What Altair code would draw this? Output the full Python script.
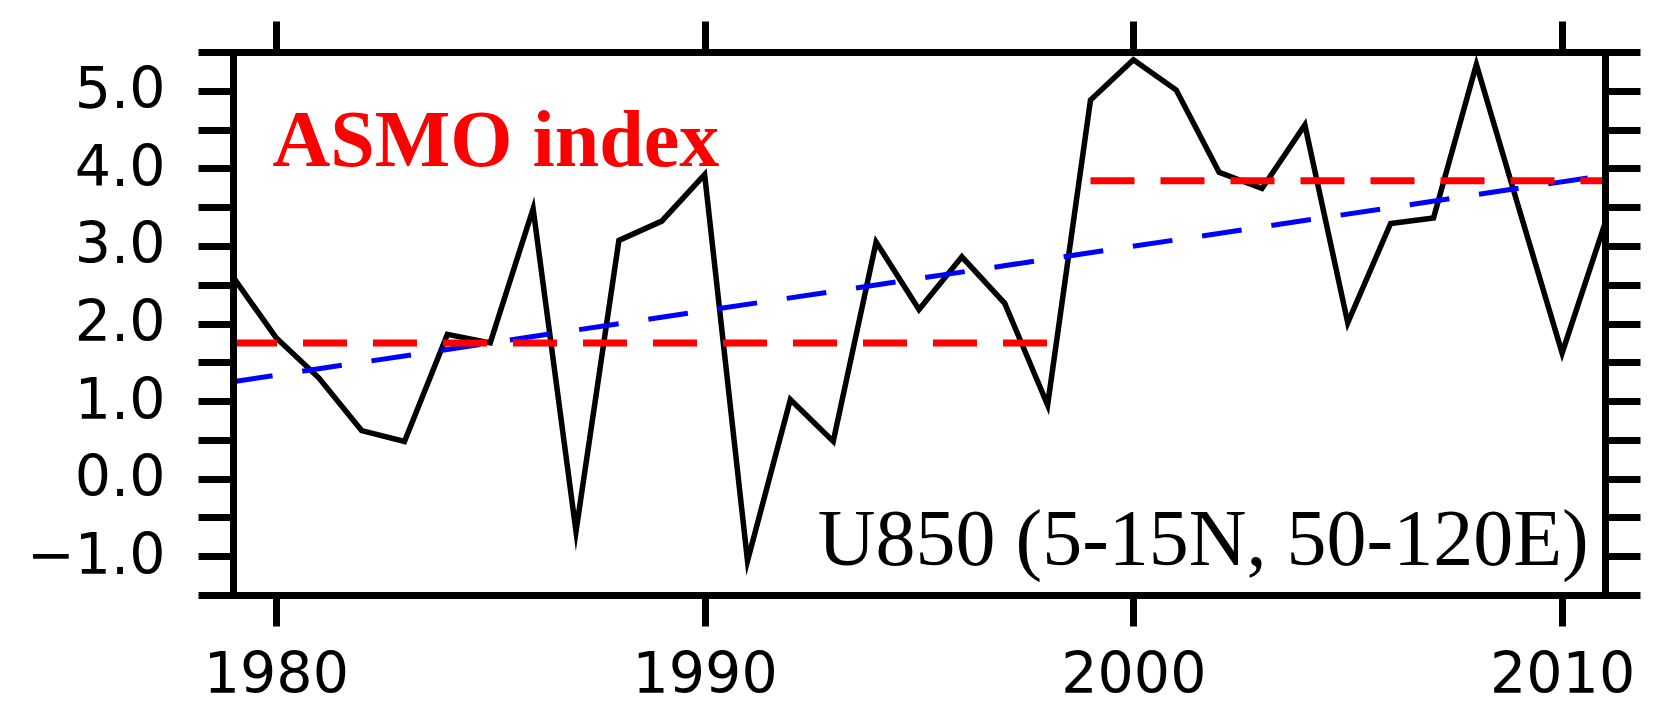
import altair as alt
import pandas as pd

# ---- data ----
years = list(range(1979, 2012))
u850 = [2.60, 1.82, 1.30, 0.62, 0.48, 1.86, 1.75, 3.48, -0.68, 3.07,
        3.32, 3.92, -1.06, 1.02, 0.48, 3.05, 2.18, 2.86, 2.26, 0.95,
        4.88, 5.40, 5.01, 3.95, 3.74, 4.56, 2.01, 3.29, 3.36, 5.34,
        3.47, 1.62, 3.29]

mean_periods = ["1979-1998", "1979-1998", "1999-2011", "1999-2011"]
mean_years = [1979, 1998, 1999, 2011]
mean_values = [1.75, 1.75, 3.84, 3.84]

trend_years = [1979, 2011]
trend_values = [1.25, 3.91]

x_ticks = [1980, 1990, 2000, 2010]
y_ticks = [-1.5, -1.0, -0.5, 0.0, 0.5, 1.0, 1.5, 2.0, 2.5, 3.0, 3.5, 4.0, 4.5, 5.0, 5.5]
x_domain = [1979, 2011]
y_domain = [-1.5, 5.5]

title_text = ["ASMO index"]
title_pos = [1979.92, 4.03]
region_text = ["U850 (5-15N, 50-120E)"]
region_pos = [2010.62, -1.11]

# ---- tables ----
df_line = pd.DataFrame({"year": years, "value": u850})
df_mean = pd.DataFrame({"period": mean_periods, "year": mean_years, "value": mean_values})
df_trend = pd.DataFrame({"year": trend_years, "value": trend_values})
df_t1 = pd.DataFrame({"year": [title_pos[0]], "value": [title_pos[1]], "label": title_text})
df_t2 = pd.DataFrame({"year": [region_pos[0]], "value": [region_pos[1]], "label": region_text})

xs = alt.Scale(domain=x_domain, nice=False, zero=False)
ys = alt.Scale(domain=y_domain, nice=False, zero=False)

common = dict(domainColor="black", tickColor="black", domainWidth=7, tickWidth=7,
              grid=False, zindex=1, domainCap="square", labelOverlap=False)
label_style = dict(labelFontSize=57, labelFont="DejaVu Sans", labelFontWeight="normal",
                   labelColor="black")

ax_left = alt.Axis(orient="left", values=y_ticks,
                   labelExpr="abs(datum.value % 1) < 0.01 ? format(datum.value, '.1f') : ''",
                   tickSize=35, labelPadding=33, **label_style, **common)
ax_bottom = alt.Axis(orient="bottom", values=x_ticks, format="d", tickSize=31,
                     labelPadding=21, labelFlush=False, **label_style, **common)
ax_right = alt.Axis(orient="right", values=y_ticks, labels=False, tickSize=35, **common)
ax_top = alt.Axis(orient="top", values=x_ticks, labels=False, tickSize=31, **common)

black = alt.Chart(df_line).mark_line(
    color="black", strokeWidth=5.5, strokeJoin="miter", strokeMiterLimit=10
).encode(
    x=alt.X("year:Q", scale=xs, axis=ax_bottom, title=None),
    y=alt.Y("value:Q", scale=ys, axis=ax_left, title=None),
)

blue = alt.Chart(df_trend).mark_line(
    color="#0000ff", strokeWidth=5, strokeDash=[40, 30]
).encode(
    x=alt.X("year:Q", scale=xs, axis=ax_top, title=None),
    y=alt.Y("value:Q", scale=ys, axis=ax_right, title=None),
)

red = alt.Chart(df_mean).mark_line(
    color="#ff0000", strokeWidth=7, strokeDash=[44, 26]
).encode(
    x=alt.X("year:Q", scale=xs, axis=None),
    y=alt.Y("value:Q", scale=ys, axis=None),
    detail="period:N",
)

t1 = alt.Chart(df_t1).mark_text(
    font="Liberation Serif", fontWeight="bold", fontSize=80, color="#ff0000",
    align="left", baseline="alphabetic"
).encode(
    x=alt.X("year:Q", scale=xs, axis=None),
    y=alt.Y("value:Q", scale=ys, axis=None),
    text="label:N",
)

t2 = alt.Chart(df_t2).mark_text(
    font="Liberation Serif", fontSize=80, color="black",
    align="right", baseline="alphabetic"
).encode(
    x=alt.X("year:Q", scale=xs, axis=None),
    y=alt.Y("value:Q", scale=ys, axis=None),
    text="label:N",
)

chart = alt.layer(black, blue, red, t1, t2).resolve_axis(
    x="independent", y="independent"
).properties(
    width=1372, height=543,
    autosize=alt.AutoSizeParams(type="none"),
    padding={"left": 225, "top": 44, "right": 40, "bottom": 120},
    background="white",
).configure_view(stroke=None)

chart.save("out.html", embed_options={"renderer": "svg", "actions": False})
